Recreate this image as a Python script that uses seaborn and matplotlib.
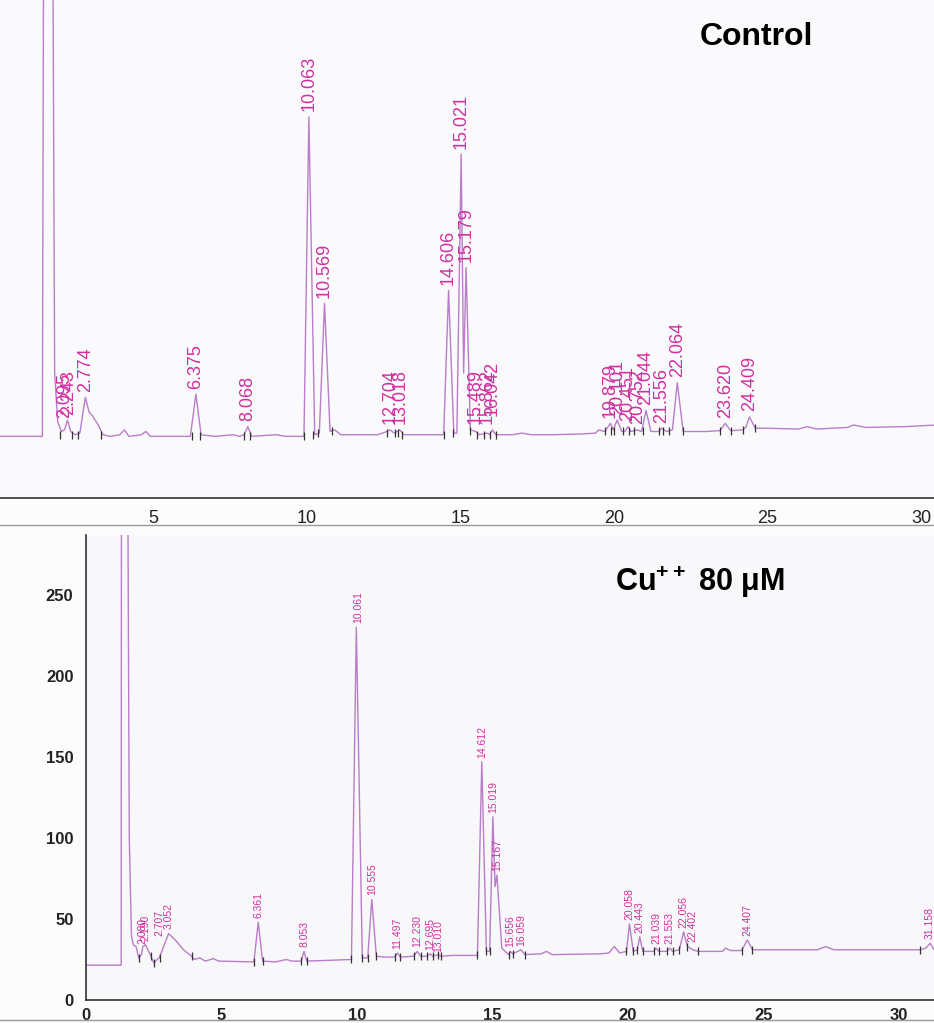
import numpy as np
import pandas as pd
import matplotlib
matplotlib.use("Agg")
import matplotlib.pyplot as plt
from matplotlib.ticker import MultipleLocator
from matplotlib.lines import Line2D
import seaborn as sns

# ---------------- data ----------------
# Control chromatogram trace vertices (time min, signal)
control_t = [0.0, 1.38, 1.42, 1.72, 1.78, 1.88, 2.0, 2.1, 2.2, 2.3, 2.45, 2.6, 2.78, 2.9, 3.0,
             3.2, 3.35, 3.6, 3.9, 4.05, 4.2, 4.6, 4.75, 4.9, 6.2, 6.38, 6.55, 7.0, 7.6, 7.8,
             7.95, 8.07, 8.2, 9.0, 9.3, 9.9, 10.06, 10.25, 10.4, 10.57, 10.75, 10.9, 11.1,
             11.6, 12.3, 12.6, 12.7, 12.85, 13.02, 13.15, 13.6, 14.45, 14.61, 14.78, 14.88,
             15.02, 15.10, 15.18, 15.32, 15.49, 15.6, 15.87, 15.95, 16.04, 16.15, 16.7, 17.0,
             17.3, 18.0, 19.0, 19.4, 19.5, 19.7, 19.88, 19.97, 20.1, 20.25, 20.35, 20.45,
             20.55, 20.75, 20.9, 21.04, 21.2, 21.45, 21.56, 21.7, 21.9, 22.06, 22.25, 23.0,
             23.45, 23.62, 23.8, 24.2, 24.3, 24.41, 24.6, 25.0, 26.0, 26.3, 26.6, 27.6, 27.8,
             28.2, 29.5, 30.0, 30.5]
control_y = [21, 21, 330, 330, 60, 30, 24, 25, 31, 24, 22, 23, 45, 36, 34,
             28, 22, 21, 22, 25, 21, 22, 24, 21, 21, 47, 22, 21, 22, 21,
             22, 27, 21, 22, 21, 21, 218, 22, 23, 103, 24, 25, 22,
             22, 22, 24, 25, 23, 25, 22, 22, 22, 111, 23, 23,
             195, 60, 125, 25, 24, 22, 23, 22, 25, 22, 22, 23,
             22, 22, 22.5, 23, 25, 24, 29, 25, 31, 24, 24, 27,
             24, 25, 24, 37, 24, 24, 26, 24, 25, 54, 24, 24,
             24.5, 29, 24.5, 25, 27, 33, 26, 26, 25.5, 27, 25.5, 26.5, 28,
             26.5, 27, 27.5, 28]
control_rt = [2.095, 2.243, 2.774, 6.375, 8.068, 10.063, 10.569, 12.704, 13.018, 14.606,
              15.021, 15.179, 15.489, 15.862, 16.042, 19.879, 20.101, 20.451, 20.752,
              21.044, 21.556, 22.064, 23.620, 24.409]
control_lab_y = [29, 31, 45, 47, 27, 218, 103, 25, 25, 111,
                 195, 125, 25, 25, 30, 29, 31, 27, 25,
                 37, 26, 54, 29, 33]
control_bounds_t = [1.95, 2.35, 2.55, 3.3, 6.25, 6.5, 7.95, 8.15, 9.9, 10.2, 10.35, 10.8,
                    12.6, 12.85, 12.95, 13.1, 14.45, 14.75, 15.3, 15.55, 15.75, 15.95, 16.15,
                    19.7, 19.9, 20.0, 20.3, 20.5, 20.65, 20.95, 21.45, 21.6, 21.8, 22.25,
                    23.45, 23.8, 24.2, 24.6]
control_bounds_y = [22, 22, 22, 22, 21, 21, 21, 21, 21, 22, 23, 24,
                    23, 23, 23, 22, 22, 23, 24, 22, 22, 22, 22,
                    24, 24, 24, 24, 24, 24, 24, 24, 24, 24, 24,
                    24.5, 24.5, 25, 26]

# Cu++ 80 uM chromatogram trace vertices
cu_t = [0.0, 1.30, 1.31, 1.55, 1.6, 1.68, 1.75, 1.85, 1.95, 2.05, 2.1, 2.2, 2.4, 2.5, 2.7,
        2.8, 3.05, 3.3, 3.6, 3.9, 4.0, 4.2, 4.4, 4.7, 4.9, 6.2, 6.36, 6.52, 7.0, 7.4, 7.6,
        7.95, 8.05, 8.15, 9.0, 9.8, 9.98, 10.2, 10.4, 10.55, 10.72, 11.0, 11.4, 11.5, 11.6,
        12.1, 12.23, 12.35, 12.6, 12.7, 12.8, 13.0, 13.1, 13.5, 14.45, 14.61, 14.78, 14.9,
        15.02, 15.1, 15.17, 15.35, 15.6, 15.66, 15.75, 16.06, 16.2, 16.8, 17.0, 17.2, 19.0,
        19.3, 19.5, 19.7, 19.95, 20.06, 20.2, 20.35, 20.44, 20.55, 20.95, 21.04, 21.15,
        21.45, 21.55, 21.65, 21.9, 22.06, 22.2, 22.4, 22.6, 23.5, 23.6, 23.8, 24.2, 24.41,
        24.6, 25.0, 27.0, 27.3, 27.6, 30.8, 31.0, 31.16, 31.3]
cu_y = [21.5, 21.5, 300, 300, 100, 40, 34, 33, 26, 28, 33, 34, 27, 23, 26,
        30, 41, 37, 31, 27, 25, 26, 24, 25.5, 24, 23.5, 48, 24, 23.5, 25, 24,
        24, 30, 24, 24.5, 25, 230, 26, 26, 62, 27, 26.5, 26.5, 29, 26.5,
        27, 30, 27, 27, 28.5, 27, 28, 27, 27.5, 27.5, 147, 30, 30,
        113, 70, 77, 32, 28, 30, 28.5, 31, 28, 28.5, 30, 28, 28.5,
        29, 33, 29, 30, 47, 30, 31, 39, 30, 30, 32, 30,
        30, 32, 30, 31, 42, 33, 31, 30, 30, 32, 30.5, 30.5, 37,
        31, 31, 31, 33, 31, 31, 32, 35, 31]
cu_rt = [2.080, 2.190, 2.707, 3.052, 6.361, 8.053, 10.061, 10.555, 11.497, 12.230, 12.695,
         13.010, 14.612, 15.019, 15.167, 15.656, 16.059, 20.058, 20.443, 21.039, 21.553,
         22.056, 22.402, 24.407, 31.158]
cu_lab_y = [32, 34, 37, 41, 48, 30, 230, 62, 29, 30, 28,
            27, 147, 113, 77, 30, 31, 47, 39, 32, 32,
            42, 33, 37, 35]
cu_bounds_t = [1.95, 2.4, 2.5, 2.75, 3.9, 6.2, 6.52, 7.95, 8.15, 9.8, 10.2, 10.4, 10.72,
               11.4, 11.6, 12.1, 12.35, 12.6, 12.8, 13.0, 13.1, 14.45, 14.78, 14.9, 15.6,
               15.75, 16.2, 19.95, 20.2, 20.35, 20.55, 20.95, 21.15, 21.45, 21.65, 21.9,
               22.2, 22.6, 24.2, 24.6, 30.8]
cu_bounds_y = [26, 27, 23, 26, 27, 23.5, 24, 24, 24, 25, 26, 26, 27,
               26.5, 26.5, 27, 27, 27, 27, 28, 27, 27.5, 30, 30, 28,
               28.5, 28, 30, 30, 31, 30, 30, 30, 30, 30, 31,
               33, 30, 30.5, 31, 31]

trace_color = "#b97dc9"
label_color = "#d0309f"

# ---------------- figure ----------------
sns.set_style("white")
plt.rcParams["font.family"] = ["Liberation Sans", "DejaVu Sans"]
plt.rcParams["mathtext.fontset"] = "custom"
plt.rcParams["mathtext.rm"] = "Liberation Sans"
plt.rcParams["mathtext.bf"] = "Liberation Sans:bold"

fig = plt.figure(figsize=(9.34, 10.23), dpi=100)
fig.patch.set_facecolor("#fcfcfd")

# ---- top panel: Control ----
ax1 = fig.add_axes([0.0, 0.5132, 1.0, 0.4868])
ax1.set_facecolor("#fafafc")
df1 = pd.DataFrame({"t": control_t, "y": control_y})
sns.lineplot(data=df1, x="t", y="y", ax=ax1, color=trace_color, lw=1.0,
             sort=False, estimator=None)
ax1.scatter(control_bounds_t, control_bounds_y, marker="|", s=40, color="#333333",
            linewidths=0.9, zorder=3)
for rt, ly in zip(control_rt, control_lab_y):
    ax1.annotate(f"{rt:.3f}", (rt, ly), xytext=(0, 4), textcoords="offset points",
                 rotation=90, ha="center", va="bottom", fontsize=13, color=label_color)
ax1.set_xlim(0, 30.42)
ax1.set_ylim(-17, 290)
ax1.set_xlabel("")
ax1.set_ylabel("")
ax1.set_yticks([])
ax1.xaxis.set_minor_locator(MultipleLocator(1))
ax1.set_xticks([5, 10, 15, 20, 25, 30])
ax1.tick_params(axis="x", which="major", direction="inout", length=10, width=1.0,
                labelsize=13, pad=4, colors="#222222")
ax1.tick_params(axis="x", which="minor", direction="in", length=5, width=0.8,
                colors="#444444")
for s in ["top", "left", "right"]:
    ax1.spines[s].set_visible(False)
ax1.spines["bottom"].set_color("#333333")
ax1.spines["bottom"].set_linewidth(1.2)
fig.text(756 / 934, 1 - 37 / 1023, "Control", fontsize=23, fontweight="bold",
         ha="center", va="center", color="black")

# faint borders of the scanned panels
fig.add_artist(Line2D([0, 1], [1 - 525 / 1023] * 2, color="#9a9a9a", lw=1.0,
                      transform=fig.transFigure))
fig.add_artist(Line2D([0, 1], [1 - 1020 / 1023] * 2, color="#9a9a9a", lw=1.0,
                      transform=fig.transFigure))

# ---- bottom panel: Cu++ 80 uM ----
ax2 = fig.add_axes([0.092, 0.0225, 0.908, 0.4545])
ax2.set_facecolor("#f8f8fa")
df2 = pd.DataFrame({"t": cu_t, "y": cu_y})
sns.lineplot(data=df2, x="t", y="y", ax=ax2, color=trace_color, lw=1.0,
             sort=False, estimator=None)
ax2.scatter(cu_bounds_t, cu_bounds_y, marker="|", s=30, color="#333333",
            linewidths=0.9, zorder=3)
for rt, ly in zip(cu_rt, cu_lab_y):
    ax2.annotate(f"{rt:.3f}", (rt, ly), xytext=(0, 3), textcoords="offset points",
                 rotation=90, ha="center", va="bottom", fontsize=7.5, color=label_color)
ax2.set_xlim(0, 31.3)
ax2.set_ylim(0, 287)
ax2.set_xlabel("")
ax2.set_ylabel("")
ax2.xaxis.set_major_locator(MultipleLocator(5))
ax2.xaxis.set_minor_locator(MultipleLocator(1))
ax2.yaxis.set_major_locator(MultipleLocator(50))
ax2.yaxis.set_minor_locator(MultipleLocator(10))
ax2.tick_params(axis="x", which="major", direction="inout", length=8, width=1.0,
                labelsize=12, pad=2, colors="#222222")
ax2.tick_params(axis="x", which="minor", direction="in", length=4, width=0.8)
ax2.tick_params(axis="y", which="major", direction="out", length=6, width=1.0,
                labelsize=12, pad=3, colors="#222222")
ax2.tick_params(axis="y", which="minor", direction="out", length=3, width=0.8)
for lab in ax2.get_xticklabels() + ax2.get_yticklabels():
    lab.set_fontweight("bold")
for s in ["top", "right"]:
    ax2.spines[s].set_visible(False)
for s in ["left", "bottom"]:
    ax2.spines[s].set_color("#333333")
    ax2.spines[s].set_linewidth(1.2)
fig.text(700 / 934, 1 - 582 / 1023, r"$\mathbf{Cu^{++}}$ 80 μM", fontsize=22,
         fontweight="bold", ha="center", va="center", color="black")

fig.savefig("out.png", dpi=100, facecolor=fig.get_facecolor())
